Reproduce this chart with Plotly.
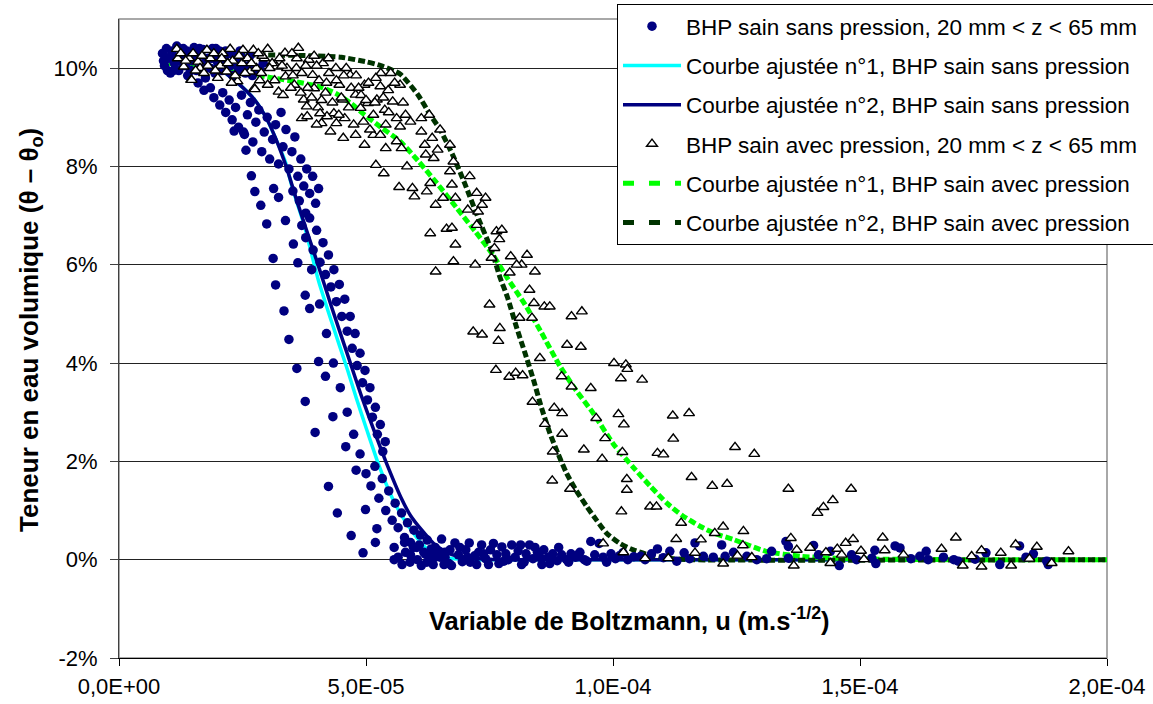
import plotly.graph_objects as go

# u en 1E-06 m.s^-1/2, teneur en eau en %
# BHP sain sans pression (points)
sans_pts = [
    # plateau
    (8.8, 10.3), (9.2, 10.05), (9.6, 10.4), (10.0, 10.2), (10.4, 9.9), (10.8, 10.35), (11.2, 10.1),
    (11.7, 10.45), (12.1, 9.95), (12.5, 10.25), (13.0, 10.4), (13.4, 10.05), (13.9, 9.85), (14.3, 10.3),
    (14.8, 10.15), (15.2, 10.42), (15.7, 9.95), (16.1, 10.25), (16.6, 10.05), (17.0, 10.38), (17.5, 9.8),
    (18.0, 10.2), (18.4, 10.0), (18.9, 10.4), (19.4, 9.9), (19.8, 10.15), (20.3, 10.35), (20.8, 9.95),
    (21.3, 10.2), (21.8, 10.0), (22.4, 10.3), (23.0, 9.85), (23.6, 10.1), (24.2, 9.95), (24.9, 10.2),
    (25.6, 9.9), (26.3, 10.05), (27.0, 9.85), (27.8, 10.0),
    (9.0, 10.15), (9.8, 9.95), (10.5, 10.25), (11.0, 9.95), (11.9, 10.2), (12.8, 10.1), (13.7, 10.35),
    (14.5, 9.95), (15.5, 10.15), (16.3, 10.4), (17.3, 10.1), (18.7, 10.2), (19.6, 10.4), (20.6, 10.1),
    (21.6, 10.35), (22.6, 10.05), (23.3, 10.25), (24.5, 10.35), (25.2, 10.05), (26.5, 10.25),
    (28.5, 9.95), (29.2, 10.1),
    # partie haute
    (16.0, 9.7), (17.2, 9.55), (18.5, 9.6), (19.2, 9.4), (20.4, 9.25), (21.0, 9.5), (21.6, 9.1),
    (22.3, 9.35), (22.9, 8.95), (23.6, 9.2), (24.2, 8.8), (24.8, 9.45), (25.4, 8.65), (26.0, 9.05),
    (26.6, 9.3), (27.1, 8.5), (27.7, 8.9), (28.3, 9.15), (28.9, 8.3), (29.4, 8.7), (30.0, 9.0),
    (30.5, 8.15), (31.1, 8.55), (31.7, 8.85), (32.3, 8.05), (32.8, 9.1), (33.2, 8.4), (33.8, 8.75),
    (34.4, 7.95), (35.0, 8.3), (35.6, 8.6), (36.2, 7.8), (36.8, 8.15), (37.4, 7.6), (38.0, 7.95),
    (38.6, 7.45), (39.2, 7.8), (39.8, 7.25), (40.4, 7.55), (35.2, 7.5), (36.5, 7.3), (37.8, 7.05),
    # partie centrale
    (37.0, 6.8), (37.8, 6.55), (38.6, 6.95), (39.3, 6.3), (40.0, 6.7), (40.7, 6.05), (41.3, 6.45),
    (41.8, 5.8), (42.4, 6.2), (42.9, 5.55), (43.5, 5.9), (44.0, 5.25), (44.6, 5.6), (45.1, 4.95),
    (45.7, 5.3), (46.2, 4.65), (46.8, 4.95), (47.2, 4.3), (47.8, 4.6), (48.2, 3.95), (48.8, 4.2),
    (49.3, 3.6), (49.8, 3.85), (50.3, 3.25), (50.8, 3.5), (51.3, 2.9), (51.9, 3.1), (52.3, 2.55),
    (52.9, 2.75), (53.4, 2.2), (53.9, 2.4),
    (39.0, 5.9), (40.6, 5.2), (42.0, 4.6), (43.4, 4.0), (44.8, 3.5), (46.2, 3.0), (47.5, 2.55),
    (48.8, 2.15), (50.0, 1.75),
    # partie basse
    (51.0, 1.5), (51.8, 1.9), (52.6, 1.25), (53.3, 1.65), (54.0, 1.0), (54.6, 1.4), (55.3, 0.8),
    (55.9, 1.15), (56.5, 0.65), (57.2, 0.95), (57.8, 0.45), (58.4, 0.75), (59.0, 0.35), (59.7, 0.6),
    (60.3, 0.25), (61.0, 0.5), (61.7, 0.15), (62.4, 0.4), (63.1, 0.1), (64.0, 0.25), (65.0, 0.05),
    (66.0, 0.15),
    # points isoles a gauche
    (23.3, 8.72), (25.2, 8.70), (25.7, 8.33), (26.8, 7.81), (27.5, 7.49), (28.7, 7.21), (29.9, 6.83),
    (31.2, 6.13), (31.7, 5.59), (33.4, 5.06), (34.4, 4.48), (36.0, 3.89), (37.7, 3.22), (39.7, 2.59),
    (42.4, 1.49), (44.2, 0.95), (47.0, 0.49), (49.4, 0.14),
    (31.3, 7.55), (32.3, 7.37), (33.7, 6.90), (35.3, 6.42), (36.2, 6.04), (37.7, 5.38), (38.6, 5.11),
    (40.4, 4.03), (41.8, 3.73), (43.3, 2.91), (45.9, 2.30), (48.0, 1.82), (49.9, 1.02), (52.2, 0.63),
    (51.9, 0.35), (55.7, 0.25), (55.7, 0.0),
    # palier final
    (56.5, 0.05), (57.3, -0.1), (58.0, 0.15), (58.9, -0.05), (59.6, 0.25), (60.4, 0.0), (61.2, -0.12),
    (62.0, 0.12), (62.8, -0.03), (63.6, -0.1), (64.5, 0.18), (65.3, 0.42), (66.0, 0.05), (66.8, -0.08),
    (67.3, -0.12), (68.0, 0.34), (68.7, 0.1), (69.5, -0.04), (70.2, 0.2), (70.9, 0.34), (71.1, -0.05),
    (72.0, 0.08), (72.8, 0.15), (73.4, 0.3), (74.2, 0.02), (74.8, -0.1), (75.8, 0.33), (76.5, 0.1),
    (77.5, 0.26), (77.9, -0.03), (78.3, 0.12), (79.5, 0.3), (80.2, 0.05), (81.3, 0.3), (81.5, -0.1),
    (82.4, 0.12), (83.1, 0.3), (83.8, 0.02), (84.7, 0.15), (85.6, -0.1), (86.0, 0.2), (86.9, 0.05),
    (87.8, 0.12), (88.7, -0.02), (89.6, 0.1), (90.6, 0.0), (91.5, 0.12), (92.4, 0.05), (93.3, 0.15),
    (94.2, 0.0), (94.7, -0.03), (95.5, 0.37), (96.3, 0.1), (97.2, 0.33), (98.0, 0.05), (98.7, -0.05),
    (99.6, 0.12), (100.5, 0.02), (101.3, 0.08), (102.0, 0.14), (103.0, 0.0), (104.2, 0.06),
    (105.6, 0.07), (106.5, 0.0), (107.8, 0.12), (109.0, 0.22), (110.2, 0.04), (111.5, 0.17),
    (112.9, -0.03), (114.4, 0.14), (115.5, 0.02), (116.6, 0.34),
    (57.8, 0.35), (59.0, 0.1), (60.8, 0.3), (62.3, -0.05), (63.2, 0.22), (64.0, 0.05), (65.8, -0.1),
    (67.0, 0.2), (69.0, 0.25), (70.5, 0.05), (72.4, -0.1), (73.8, 0.12), (75.2, 0.2), (76.9, -0.08),
    (78.8, 0.0), (80.8, 0.18), (82.0, -0.05), (84.2, 0.25), (85.2, 0.05), (87.2, -0.08), (89.0, 0.25),
    (91.0, -0.05), (92.9, 0.1),
    (118.3, 0.07), (120.3, 0.05), (122.0, 0.3), (122.7, 0.07), (124.4, 0.15), (127.1, 0.07),
    (129.1, 0.0), (131.1, 0.02), (132.1, 0.17), (135.0, 0.37), (135.5, 0.27), (135.5, 0.03),
    (140.6, 0.29), (141.6, 0.1), (144.0, 0.17), (145.8, -0.12), (148.3, 0.1), (149.3, 0.0),
    (153.0, 0.19), (152.4, 0.03), (153.2, -0.08), (157.1, 0.28), (158.1, 0.24), (160.3, 0.02),
    (162.1, 0.07), (163.4, 0.17), (163.8, 0.0), (166.9, 0.05), (169.0, 0.0), (169.9, -0.03),
    (173.3, 0.01), (175.5, 0.14), (178.3, -0.1), (182.3, 0.28), (183.6, 0.05), (185.1, 0.12),
    (187.8, -0.03), (188.1, -0.1),
]

# BHP sain avec pression (triangles)
avec_pts = [
    (11.7, 10.39), (11.9, 10.20), (13.1, 10.03), (14.6, 9.76), (14.2, 10.20), (16.0, 10.13),
    (17.8, 10.37), (16.4, 10.0), (20.0, 9.80), (22.5, 10.39), (21.8, 9.93), (24.0, 9.73),
    (25.1, 10.37), (24.9, 10.1), (27.2, 10.37), (27.4, 9.59), (26.5, 9.93), (29.4, 10.20),
    (30.1, 10.39), (30.1, 9.66), (31.9, 10.03), (32.3, 9.52), (33.6, 10.31), (33.7, 9.83),
    (35.5, 9.66), (36.3, 10.41), (35.9, 10.0), (37.4, 9.36), (38.4, 10.17), (39.2, 9.86),
    (39.5, 9.59), (40.3, 9.20), (41.3, 10.1), (42.4, 10.20), (37.0, 8.98), (38.1, 9.02),
    (41.0, 8.88), (42.8, 8.71), (43.5, 9.08), (43.9, 10.0), (44.6, 9.66), (45.3, 9.36),
    (46.8, 9.86), (47.9, 9.46), (45.7, 8.98), (47.5, 8.85), (47.9, 8.64), (49.7, 8.44),
    (48.9, 9.19), (49.7, 9.66), (50.4, 9.29), (51.5, 9.05), (51.5, 8.64), (52.9, 9.63),
    (52.9, 8.64), (54.0, 8.85), (54.0, 8.37), (55.4, 9.32), (56.2, 8.51), (56.9, 9.66),
    (57.2, 8.37), (58.0, 9.05), (59.0, 8.91), (58.3, 8.0), (59.4, 7.56), (59.8, 7.39),
    (61.2, 8.98), (61.2, 8.71), (61.9, 8.44), (62.3, 7.49), (63.0, 7.66), (62.8, 9.05),
    (63.4, 8.58), (63.7, 8.17), (64.1, 7.22), (64.5, 8.34), (65.6, 7.36), (67.0, 8.44),
    (67.0, 7.90), (67.4, 7.63), (67.7, 8.10), (68.1, 7.36), (52.0, 8.03), (53.6, 7.86),
    (56.7, 7.58), (63.0, 6.64), (66.3, 6.73), (67.4, 6.75), (68.1, 6.41), (64.1, 5.86),
    (67.7, 6.07), (72.1, 6.0), (71.0, 7.80), (72.4, 7.46), (74.2, 7.36), (73.5, 7.22),
    (70.6, 7.12), (72.4, 6.81), (76.4, 6.68), (77.5, 6.71), (76.0, 6.34), (79.3, 6.17),
    (82.6, 6.20), (81.5, 6.0), (84.2, 5.86), (83.1, 5.49), (84.0, 5.22), (86.1, 5.15),
    (87.2, 5.15), (75.0, 5.19), (81.1, 4.92), (83.6, 4.92), (77.1, 4.71), (91.6, 4.95),
    (93.7, 5.05), (71.7, 4.64), (73.5, 4.58),
    (52.2, 9.36), (53.8, 9.15), (54.6, 9.1), (56.2, 8.98), (56.9, 8.81), (49.5, 8.91),
    (50.8, 8.75), (45.4, 8.58), (44.0, 8.88), (42.1, 9.02), (40.7, 9.08), (38.0, 9.22),
    (40.0, 8.85), (44.5, 9.05), (65.0, 8.75), (62.1, 8.24), (72.7, 7.08), (77.0, 6.52),
    (75.4, 6.14), (80.5, 6.0), (79.1, 5.84),
    (18.5, 10.2), (20.5, 10.05), (21.0, 10.3), (23.0, 10.15), (23.5, 9.85), (26.0, 10.2),
    (27.8, 10.0), (28.5, 9.75), (29.0, 10.25), (31.0, 10.1), (32.5, 10.2), (34.0, 10.0),
    (34.8, 9.6), (36.0, 10.2), (37.0, 9.9), (38.2, 9.6), (39.5, 10.25), (40.5, 9.75),
    (41.8, 9.5), (42.5, 9.9), (44.0, 9.75), (45.0, 9.4), (46.0, 10.0), (47.0, 9.6),
    (48.0, 9.85), (49.0, 9.45), (50.5, 9.7), (51.8, 9.3), (53.0, 9.9), (54.5, 9.55),
    (55.8, 9.7), (27.5, 9.57), (14.7, 9.76),
    (12.5, 10.3), (13.5, 10.15), (15.0, 10.3), (15.5, 9.95), (16.8, 10.25), (17.2, 9.9),
    (18.0, 10.05), (19.2, 10.3), (19.5, 9.95), (20.8, 10.2), (22.0, 10.1), (22.8, 9.7),
    (24.3, 10.25), (25.5, 9.9), (26.8, 10.1), (28.2, 10.3), (28.8, 9.9), (30.5, 10.0),
    (31.5, 9.75), (33.0, 10.05), (33.2, 9.45), (35.0, 10.3), (35.2, 9.85), (36.8, 9.5),
    (37.8, 10.05), (39.0, 9.4), (40.0, 10.05), (41.0, 9.35), (42.0, 9.7), (43.2, 9.3),
    (45.5, 9.85), (46.5, 9.2), (48.5, 9.6), (50.0, 9.35), (52.0, 9.8), (53.5, 9.4),
    (55.0, 9.9), (57.5, 9.3),
    (76.8, 4.45), (90.7, 4.37), (93.5, 4.33), (85.2, 4.1), (100.2, 4.0), (102.6, 3.97),
    (102.9, 3.88), (76.3, 3.86), (79.0, 3.72), (80.3, 3.8), (81.7, 3.75), (89.6, 3.73),
    (91.6, 3.52), (95.5, 3.49), (101.6, 3.69), (105.9, 3.66), (83.7, 3.21), (88.1, 3.09),
    (89.7, 2.98), (96.6, 2.88), (101.1, 2.96), (102.2, 2.75), (112.1, 2.93), (115.4, 2.98),
    (86.2, 2.76), (89.7, 2.56), (98.4, 2.47), (112.2, 2.46), (87.8, 2.2), (94.1, 2.24),
    (97.8, 2.05), (101.9, 2.19), (109.0, 2.17), (110.2, 2.14), (124.7, 2.29), (87.7, 1.61),
    (91.3, 1.44), (102.8, 1.64), (102.8, 1.42), (115.9, 1.68), (120.1, 1.5), (123.1, 1.54),
    (101.7, 0.98), (107.5, 1.08), (108.8, 1.08), (113.8, 0.75), (112.8, 0.42), (117.8, 0.41),
    (122.3, 0.67), (120.6, 0.54), (126.4, 0.58), (126.3, 0.29), (98.0, 0.33), (102.1, 0.15),
    (106.5, 0.03), (111.2, 0.03), (116.6, 0.14), (122.3, -0.08), (125.2, 0.08),
    (128.6, 2.15), (135.5, 1.44), (148.2, 1.44), (144.5, 1.21), (142.6, 1.07), (141.4, 0.95),
    (128.1, 0.05), (136.0, 0.44), (137.2, 0.2), (136.6, -0.12), (139.9, 0.24), (143.1, 0.15),
    (144.0, -0.07), (145.4, 0.22), (146.3, 0.1), (147.1, 0.34), (148.6, 0.42), (150.2, 0.18),
    (150.8, 0.01), (154.6, 0.45), (155.0, 0.19), (158.8, 0.1), (166.5, 0.22), (169.4, 0.45),
    (172.6, 0.07), (170.8, -0.12), (174.6, 0.19), (174.6, -0.14), (178.5, 0.14), (180.6, -0.12),
    (181.5, 0.31), (184.3, 0.02), (185.8, 0.26), (188.8, -0.07), (192.2, 0.17),
]

# Courbes ajustees
fit1_sans = [
    (10, 10.2), (15, 10.15), (20, 10.0), (24, 9.7), (27.5, 9.35), (30, 8.95), (32, 8.5),
    (33.7, 8.09), (35.1, 7.56), (37.5, 6.8), (40.4, 5.67), (43, 4.85), (46.3, 3.85), (48, 3.3),
    (50.1, 2.66), (52.5, 1.95), (55.3, 1.26), (57.5, 0.85), (59.9, 0.5), (62, 0.25), (64.1, 0.1),
    (67, 0.03), (72, 0.0), (200, 0.0),
]
fit2_sans = [
    (10, 10.2), (15, 10.15), (20, 10.0), (24, 9.7), (27.5, 9.35), (30, 8.95), (32, 8.5),
    (34, 7.95), (36, 7.3), (40, 6.09), (43, 5.15), (46.5, 4.1), (49, 3.35), (51.5, 2.66),
    (54, 2.0), (57.1, 1.26), (59, 0.9), (61.3, 0.6), (64, 0.3), (67, 0.12), (70, 0.04),
    (75, 0.01), (80, 0.0), (200, 0.0),
]
fit1_avec = [
    (10, 10.1), (20, 9.97), (30, 9.82), (36, 9.72), (40.7, 9.62), (44, 9.48), (47, 9.28),
    (49.7, 9.05), (53, 8.8), (56.9, 8.51), (60.5, 8.12), (64.1, 7.69), (68.4, 7.15), (72.1, 6.68),
    (75.7, 6.2), (78.6, 5.73), (82.2, 5.19), (85.4, 4.64), (89.3, 3.93), (92.5, 3.45), (96, 2.98),
    (100.1, 2.35), (104.1, 1.88), (107.5, 1.5), (110.9, 1.15), (114, 0.9), (117.6, 0.68),
    (121, 0.52), (124.4, 0.41), (131, 0.17), (138, 0.07), (145, 0.03), (155, 0.01), (170, 0.0),
    (200, 0.0),
]
fit2_avec = [
    (10, 10.22), (20, 10.26), (30, 10.27), (40, 10.25), (45, 10.22), (50, 10.13), (53, 10.05),
    (56.9, 9.88), (60.5, 9.46), (63, 9.05), (65, 8.75), (67.7, 8.2), (70, 7.65), (72.8, 6.93),
    (75.4, 6.3), (77.1, 5.75), (78.6, 5.35), (80.5, 4.72), (82.2, 4.2), (83.9, 3.66), (85.5, 3.1),
    (87.2, 2.58), (88.9, 2.15), (90.6, 1.76), (92.6, 1.4), (94.7, 1.08), (96.7, 0.8), (98.7, 0.54),
    (101.4, 0.33), (104.1, 0.2), (107.5, 0.09), (110.9, 0.03), (116, 0.0), (200, 0.0),
]

x_ticks = [0, 5e-5, 1e-4, 1.5e-4, 2e-4]
x_labels = ["0,0E+00", "5,0E-05", "1,0E-04", "1,5E-04", "2,0E-04"]
y_ticks = [-2, 0, 2, 4, 6, 8, 10]
y_labels = ["-2%", "0%", "2%", "4%", "6%", "8%", "10%"]

FONT = "Arial, 'Liberation Sans', sans-serif"
PAD = "\u00a0\u00a0"  # petit espace a droite dans la legende


def xs(pts):
    return [p[0] * 1e-6 for p in pts]


def ys(pts):
    return [p[1] for p in pts]


fig = go.Figure()

# courbes d'abord (les marqueurs passent au-dessus, comme dans Excel)
fig.add_trace(go.Scatter(
    x=xs(fit1_sans), y=ys(fit1_sans), mode="lines",
    name="Courbe ajustée n°1, BHP sain sans pression" + PAD,
    line=dict(color="#00FFFF", width=3.5, shape="spline", smoothing=0.6),
    legendrank=2, legendgroup="b"))
fig.add_trace(go.Scatter(
    x=xs(fit2_sans), y=ys(fit2_sans), mode="lines",
    name="Courbe ajustée n°2, BHP sain sans pression" + PAD,
    line=dict(color="#000080", width=3.5, shape="spline", smoothing=0.6),
    legendrank=3, legendgroup="c"))
fig.add_trace(go.Scatter(
    x=xs(fit1_avec), y=ys(fit1_avec), mode="lines", showlegend=False,
    line=dict(color="#00FF00", width=5, dash="7px,3px", shape="spline", smoothing=0.6),
    legendgroup="e"))
fig.add_trace(go.Scatter(
    x=xs(fit2_avec), y=ys(fit2_avec), mode="lines", showlegend=False,
    line=dict(color="#003300", width=5, dash="7px,3px", shape="spline", smoothing=0.6),
    legendgroup="f"))

fig.add_trace(go.Scatter(
    x=xs(sans_pts), y=ys(sans_pts), mode="markers",
    name="BHP sain sans pression, 20 mm < z < 65 mm" + PAD,
    marker=dict(color="#000080", size=9.5, line=dict(width=0)),
    legendrank=1, legendgroup="a"))
fig.add_trace(go.Scatter(
    x=xs(avec_pts), y=ys(avec_pts), mode="markers",
    name="BHP sain avec pression, 20 mm < z < 65 mm" + PAD,
    marker=dict(symbol="triangle-up", color="white", size=9.5,
                line=dict(color="black", width=1.4)),
    legendrank=4, legendgroup="d"))

# entrees de legende des courbes en tirets (tirets plus longs, comme l'original)
fig.add_trace(go.Scatter(
    x=[None], y=[None], mode="lines",
    name="Courbe ajustée n°1, BHP sain avec pression" + PAD,
    line=dict(color="#00FF00", width=5, dash="11px,15px"),
    legendrank=5, legendgroup="e"))
fig.add_trace(go.Scatter(
    x=[None], y=[None], mode="lines",
    name="Courbe ajustée n°2, BHP sain avec pression" + PAD,
    line=dict(color="#003300", width=5, dash="11px,15px"),
    legendrank=6, legendgroup="f"))

fig.update_layout(
    width=1153, height=704,
    margin=dict(l=119, r=46, t=19, b=46, autoexpand=False),
    paper_bgcolor="white", plot_bgcolor="white",
    font=dict(family=FONT, size=22, color="black"),
    showlegend=True,
    legend=dict(
        x=(617 - 119) / 988, y=1 + (19 - 4) / 639, xanchor="left", yanchor="top",
        bgcolor="white", bordercolor="black", borderwidth=1,
        font=dict(family=FONT, size=22.5, color="black"),
        traceorder="grouped", tracegroupgap=7, itemwidth=58,
    ),
    xaxis=dict(
        range=[0, 2e-4], tickvals=x_ticks, ticktext=x_labels,
        showgrid=False, zeroline=False, automargin=False,
        showline=True, linecolor="black", linewidth=1,
        ticks="outside", ticklen=7, tickcolor="black",
        tickfont=dict(size=22), ticklabelstandoff=2,
    ),
    yaxis=dict(
        range=[-2, 11], tickvals=y_ticks, ticktext=y_labels,
        showgrid=True, gridcolor="#222222", gridwidth=1, zeroline=False, automargin=False,
        showline=True, linecolor="#404040", linewidth=1,
        ticks="outside", ticklen=8, tickcolor="#404040",
        tickfont=dict(size=22), ticklabelstandoff=8,
    ),
    shapes=[dict(type="rect", xref="paper", yref="paper", x0=0, y0=0, x1=1, y1=1,
                 line=dict(color="#8c8c8c", width=1.5), layer="below")],
    annotations=[
        dict(text="<b>Variable de Boltzmann, u (m.s<sup>-1/2</sup>)</b>",
             xref="paper", yref="paper", x=(629 - 119) / 988, y=(658 - 619) / 639,
             xanchor="center", yanchor="middle", showarrow=False,
             font=dict(size=25.5)),
        dict(text="<b>Teneur en eau volumique (θ – θ<sub>o</sub>)</b>",
             xref="paper", yref="paper", x=(30 - 119) / 988, y=(658 - 330) / 639,
             xanchor="center", yanchor="middle", showarrow=False, textangle=-90,
             font=dict(size=26)),
    ],
)

fig.write_html("out.html", config={"displayModeBar": False},
               post_script="document.body.style.margin='0';")
